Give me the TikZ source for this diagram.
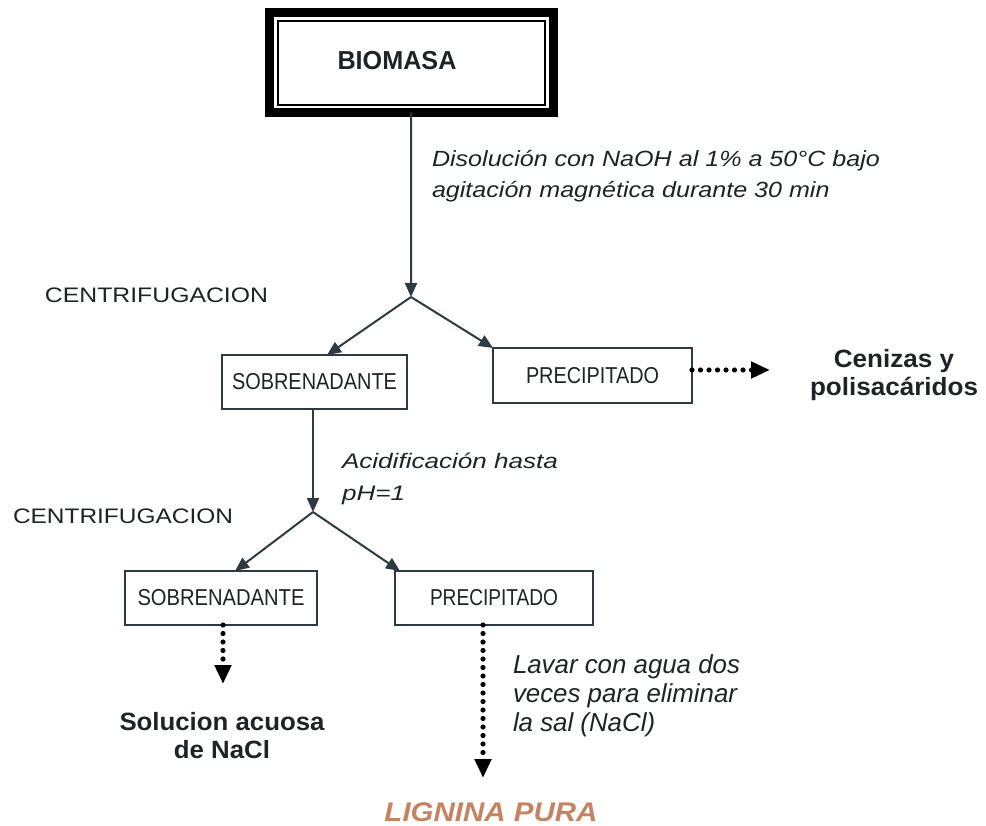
\documentclass[tikz,border=0pt]{standalone}
\usepackage{fontspec}
\setmainfont{Liberation Sans}
\usetikzlibrary{arrows.meta}
\definecolor{tcol}{RGB}{30,35,40}
\definecolor{lcol}{RGB}{45,58,66}
\definecolor{lig}{RGB}{196,132,98}
\newcommand{\tw}[2]{\resizebox{#1}{\height}{#2}}
\begin{document}
\begin{tikzpicture}[x=1pt,y=-1pt,
  txt/.style={inner sep=0pt, outer sep=0pt, text=tcol},
  box/.style={draw=lcol, line width=2.3pt, outer sep=0pt, inner sep=0pt, text=tcol},
  conn/.style={draw=lcol, line width=2pt, -{Triangle[length=14pt,width=12pt]}},
  dotconn/.style={draw=black, line width=5.2pt, line cap=round, dash pattern=on 0pt off 8.5pt, -{Triangle[length=19pt,width=16pt]}}]
\useasboundingbox (0,0) rectangle (986,826);

% BIOMASA frame
\node[draw=black, line width=9pt, outer sep=0pt, minimum width=284.5pt, minimum height=100pt] (bio) at (411.25,62.5) {};
\draw[black, line width=2.5pt] ([shift={(9,8.5)}]bio.north west) rectangle ([shift={(-8.5,-7.5)}]bio.south east);
\node[txt, anchor=base] (biot) at (397,70) {\fontsize{26}{30}\selectfont\bfseries\tw{119pt}{BIOMASA}};

% boxes
\node[box, minimum width=185pt, minimum height=54pt] (sob1) at (314.5,382) {\fontsize{23}{27}\selectfont\tw{165pt}{SOBRENADANTE}};
\node[box, minimum width=199pt, minimum height=55pt] (pre1) at (592.5,375.5) {\fontsize{23}{27}\selectfont\tw{133pt}{PRECIPITADO}};
\node[box, minimum width=192pt, minimum height=54pt] (sob2) at (221,598) {\fontsize{23}{27}\selectfont\tw{167pt}{SOBRENADANTE}};
\node[box, minimum width=198pt, minimum height=54pt] (pre2) at (494,598) {\fontsize{23}{27}\selectfont\tw{128pt}{PRECIPITADO}};

% junctions and free ends
\coordinate (j1) at (411,297);
\coordinate (j2) at (313,512);
\coordinate (e1) at (770,370);
\coordinate (e2) at (223,684);
\coordinate (e3) at (483,778);

% connectors
\draw[conn] (bio.south) -- (j1);
\draw[conn] (j1) -- ([xshift=12.5pt]sob1.north);
\draw[conn] (j1) -- (pre1.north west);
\draw[conn] (sob1.south -| j2) -- (j2);
\draw[conn] (j2) -- ([xshift=14pt]sob2.north);
\draw[conn] (j2) -- ([xshift=5pt]pre2.north west);
\draw[dotconn] ([yshift=5.5pt]pre1.east) -- (e1);
\draw[dotconn] ([xshift=2pt]sob2.south) -- (e2);
\draw[dotconn] ([xshift=-11pt]pre2.south) -- (e3);

% labels
\node[txt, anchor=base west] (l1) at (432,167) {\fontsize{22}{31}\selectfont\itshape\tw{448pt}{\begin{tabular}[t]{@{}l@{}}Disolución con NaOH al 1\% a 50°C bajo\\agitación magnética durante 30 min\end{tabular}}};
\node[txt, anchor=base west] (c1) at (45,303) {\fontsize{21}{25}\selectfont\tw{223pt}{CENTRIFUGACION}};
\node[txt, anchor=base west] (c2) at (13,523) {\fontsize{21}{25}\selectfont\tw{220pt}{CENTRIFUGACION}};
\node[txt, anchor=base] (cen) at (894,368) {\fontsize{25}{27}\selectfont\bfseries\tw{168pt}{\begin{tabular}[t]{@{}c@{}}Cenizas y\\polisacáridos\end{tabular}}};
\node[txt, anchor=base west] (l2) at (342,468) {\fontsize{21}{32}\selectfont\itshape\tw{216pt}{\begin{tabular}[t]{@{}l@{}}Acidificación hasta\\pH=1\end{tabular}}};
\node[txt, anchor=base] (sol) at (222,730) {\fontsize{25}{28}\selectfont\bfseries\tw{205pt}{\begin{tabular}[t]{@{}c@{}}Solucion acuosa\\de NaCl\end{tabular}}};
\node[txt, anchor=base west] (l3) at (513,673) {\fontsize{26}{29}\selectfont\itshape\tw{227pt}{\begin{tabular}[t]{@{}l@{}}Lavar con agua dos\\veces para eliminar\\la sal (NaCl)\end{tabular}}};
\node[txt, anchor=base, text=lig] (lig) at (491,821) {\fontsize{27}{30}\selectfont\bfseries\itshape\tw{213pt}{LIGNINA PURA}};
\end{tikzpicture}
\end{document}
